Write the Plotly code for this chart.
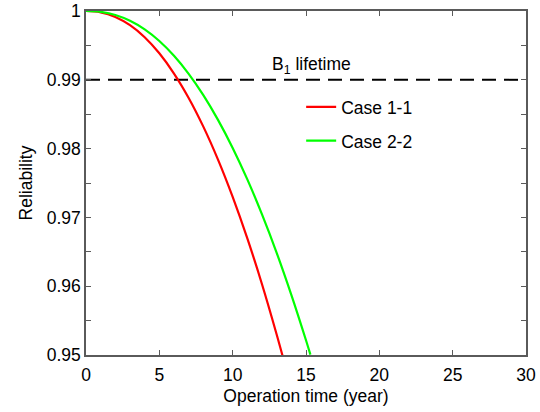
import plotly.graph_objects as go

# Data
time_case11 = [0, 1, 2, 3, 4, 5, 6, 7, 8, 9, 10, 11, 12, 13, 13.4]
rel_case11 = [1.0, 0.99981, 0.99914, 0.99794, 0.99619, 0.99385, 0.99091, 0.98736,
              0.98319, 0.97840, 0.97298, 0.96695, 0.96029, 0.95299, 0.94990]

time_case22 = [0, 1, 2, 3, 4, 5, 6, 7, 8, 9, 10, 11, 12, 13, 14, 15, 15.3]
rel_case22 = [1.0, 0.99987, 0.99942, 0.99858, 0.99733, 0.99564, 0.99349, 0.99087,
              0.98777, 0.98418, 0.98010, 0.97552, 0.97043, 0.96485, 0.95874, 0.95214, 0.95006]

b1_time = [0, 30]
b1_level = [0.99, 0.99]

x_ticks = [0, 5, 10, 15, 20, 25, 30]
y_ticks = [0.95, 0.96, 0.97, 0.98, 0.99, 1.0]
y_tick_text = ["0.95", "0.96", "0.97", "0.98", "0.99", "1"]

FONT = "Liberation Sans, Arial, sans-serif"
FS = 17.5
AXC = "#5a5a5a"

fig = go.Figure()
fig.add_trace(go.Scatter(x=b1_time, y=b1_level, mode="lines",
                         line=dict(color="black", width=2, dash="14px,8px"),
                         showlegend=False, hoverinfo="skip"))
fig.add_trace(go.Scatter(x=time_case11, y=rel_case11, mode="lines", name="Case 1-1",
                         line=dict(color="#FF0000", width=2.2, shape="spline"),
                         legendgroup="a"))
fig.add_trace(go.Scatter(x=time_case22, y=rel_case22, mode="lines", name="Case 2-2",
                         line=dict(color="#00FF00", width=2.2, shape="spline"),
                         legendgroup="b"))

fig.add_annotation(x=15.4, y=0.9921, xref="x", yref="y", showarrow=False,
                   text="B<sub>1</sub> lifetime", xanchor="center", yanchor="middle",
                   font=dict(family=FONT, size=FS, color="black"))

axis_common = dict(showline=True, linecolor=AXC, linewidth=1.5, mirror="ticks",
                   ticks="inside", ticklen=5, tickcolor=AXC, tickwidth=1,
                   showgrid=False, zeroline=False, automargin=False,
                   tickfont=dict(family=FONT, size=FS, color="black"))

fig.update_layout(
    width=540, height=412,
    margin=dict(l=86, r=14, t=11, b=57),
    paper_bgcolor="white", plot_bgcolor="white",
    font=dict(family=FONT, size=FS, color="black"),
    xaxis=dict(range=[0, 30], tickvals=x_ticks, ticklabelstandoff=3,
               title=dict(text="Operation time (year)", standoff=6,
                          font=dict(family=FONT, size=FS, color="black")),
               **axis_common),
    yaxis=dict(range=[0.95, 1.0], tickvals=y_ticks, ticktext=y_tick_text,
               minor=dict(dtick=0.005, ticks="inside", ticklen=5, tickcolor=AXC),
               title=dict(text="Reliability", standoff=10,
                          font=dict(family=FONT, size=FS, color="black")),
               **axis_common),
    legend=dict(x=0.489, y=0.773, xanchor="left", yanchor="top",
                bgcolor="rgba(0,0,0,0)", borderwidth=0,
                traceorder="grouped", tracegroupgap=8,
                font=dict(family=FONT, size=FS, color="black")),
    showlegend=True,
)

fig.write_html("out.html", config={"displayModeBar": False},
               post_script="document.body.style.margin='0';document.body.style.overflow='hidden';")
